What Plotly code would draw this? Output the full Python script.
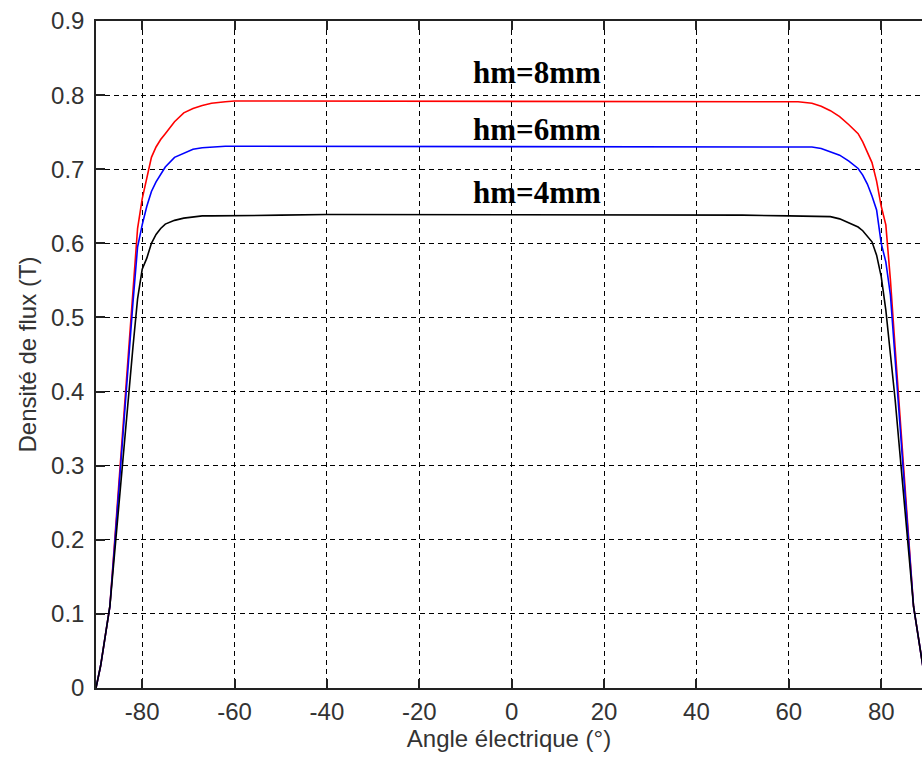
import plotly.graph_objects as go

# Electrical angle (degrees) shared by the three flux-density curves
angle = [-90, -89, -88, -87, -86, -85, -84, -83, -82, -81, -80, -79, -78, -77, -76, -75,
         -73, -71, -69, -67, -65, -62, -60, -50, -40, -30, -20, -10, 0,
         10, 20, 30, 40, 50, 60, 62, 65, 67, 69, 71, 73,
         75, 76, 77, 78, 79, 80, 81, 82, 83, 84, 85, 86, 87, 88, 89, 90]

# Air-gap flux density (T) for each magnet height
b_hm8 = [0.0, 0.03, 0.07, 0.11, 0.195, 0.28, 0.37, 0.455, 0.54, 0.62, 0.66, 0.69, 0.716, 0.730, 0.740, 0.748,
         0.764, 0.776, 0.782, 0.786, 0.789, 0.791, 0.792, 0.792, 0.792, 0.792, 0.792, 0.792, 0.792,
         0.792, 0.792, 0.792, 0.792, 0.792, 0.792, 0.791, 0.789, 0.785, 0.779, 0.771, 0.760,
         0.748, 0.737, 0.724, 0.709, 0.684, 0.650, 0.625, 0.55, 0.46, 0.37, 0.28, 0.195, 0.11, 0.07, 0.03, 0.0]

b_hm6 = [0.0, 0.03, 0.07, 0.11, 0.19, 0.275, 0.36, 0.44, 0.52, 0.595, 0.625, 0.650, 0.670, 0.683, 0.694, 0.703,
         0.716, 0.722, 0.727, 0.729, 0.730, 0.731, 0.731, 0.731, 0.731, 0.731, 0.731, 0.731, 0.731,
         0.731, 0.731, 0.731, 0.731, 0.731, 0.731, 0.731, 0.730, 0.728, 0.724, 0.719, 0.711,
         0.701, 0.692, 0.680, 0.664, 0.645, 0.600, 0.575, 0.53, 0.44, 0.36, 0.275, 0.19, 0.11, 0.07, 0.03, 0.0]

b_hm4 = [0.0, 0.03, 0.07, 0.11, 0.18, 0.25, 0.33, 0.40, 0.46, 0.525, 0.565, 0.580, 0.600, 0.612, 0.620, 0.626,
         0.631, 0.634, 0.636, 0.637, 0.637, 0.637, 0.637, 0.638, 0.639, 0.639, 0.639, 0.639, 0.639,
         0.639, 0.639, 0.639, 0.639, 0.638, 0.637, 0.637, 0.637, 0.637, 0.636, 0.633, 0.628,
         0.622, 0.617, 0.610, 0.602, 0.584, 0.555, 0.51, 0.45, 0.39, 0.32, 0.25, 0.18, 0.11, 0.07, 0.03, 0.0]

curve_names = ["hm=8mm", "hm=6mm", "hm=4mm"]
curve_colors = ["#FF0000", "#0000FF", "#000000"]
label_y = [0.831, 0.754, 0.668]
label_x = 5.5

x_ticks = [-80, -60, -40, -20, 0, 20, 40, 60, 80]
y_ticks = [0, 0.1, 0.2, 0.3, 0.4, 0.5, 0.6, 0.7, 0.8, 0.9]
y_tick_text = ["0", "0.1", "0.2", "0.3", "0.4", "0.5", "0.6", "0.7", "0.8", "0.9"]

fig = go.Figure()
for series, name, color in zip([b_hm8, b_hm6, b_hm4], curve_names, curve_colors):
    fig.add_trace(go.Scatter(x=angle, y=series, mode="lines", name=name,
                             line=dict(color=color, width=1.6), showlegend=False))

for name, yv in zip(curve_names, label_y):
    fig.add_annotation(x=label_x, y=yv, text="<b>" + name + "</b>", showarrow=False,
                       xanchor="center", yanchor="middle",
                       font=dict(family="Liberation Serif", size=31, color="#000000"))

tick_font = dict(family="Liberation Sans", size=24, color="#333333")

fig.update_layout(
    width=922, height=762,
    margin=dict(l=96, r=0, t=21, b=74),
    paper_bgcolor="white", plot_bgcolor="white",
    xaxis=dict(range=[-90, 88.83], tickvals=x_ticks, ticktext=[str(v) for v in x_ticks],
               showgrid=True, gridcolor="#000000", gridwidth=1, griddash="5px,4px",
               zeroline=False, showline=True, linecolor="#222222", linewidth=1.5,
               mirror="ticks", ticks="inside", ticklen=9, tickcolor="#222222", tickwidth=1.5,
               tickfont=tick_font, ticklabelstandoff=1,
               title=dict(text="Angle électrique (°)", font=tick_font, standoff=4)),
    yaxis=dict(range=[0, 0.9], tickvals=y_ticks, ticktext=y_tick_text,
               showgrid=True, gridcolor="#000000", gridwidth=1, griddash="5px,4px",
               zeroline=False, showline=True, linecolor="#222222", linewidth=1.5,
               mirror=False, ticks="inside", ticklen=9, tickcolor="#222222", tickwidth=1.5,
               tickfont=tick_font, ticklabelstandoff=5,
               title=dict(text="Densité de flux (T)", font=tick_font, standoff=8)),
)

fig.write_html("out.html")
